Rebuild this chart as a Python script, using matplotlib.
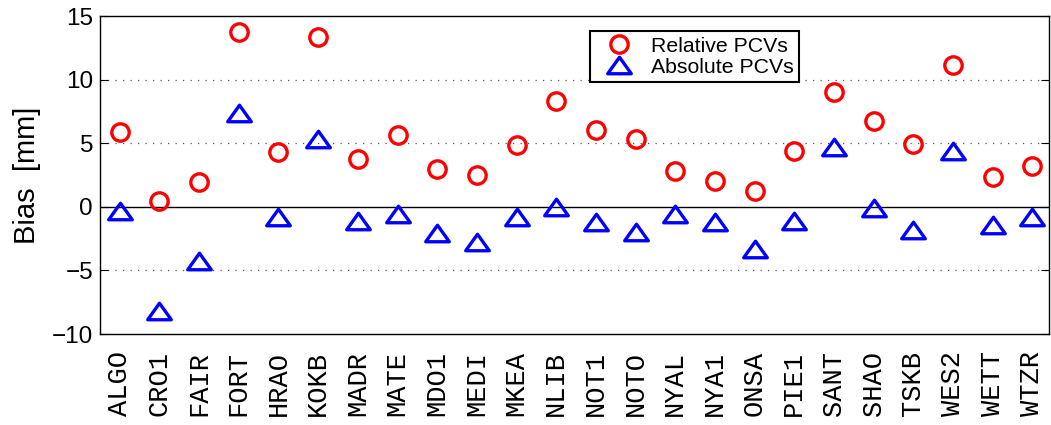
import numpy as np
import matplotlib
matplotlib.use('Agg')
import matplotlib.pyplot as plt
from matplotlib.path import Path

# stations and biases (mm)
stations = ['ALGO', 'CRO1', 'FAIR', 'FORT', 'HRAO', 'KOKB', 'MADR', 'MATE',
            'MDO1', 'MEDI', 'MKEA', 'NLIB', 'NOT1', 'NOTO', 'NYAL', 'NYA1',
            'ONSA', 'PIE1', 'SANT', 'SHAO', 'TSKB', 'WES2', 'WETT', 'WTZR']
relative = [5.87, 0.5, 1.94, 13.78, 4.33, 13.38, 3.78, 5.69,
            2.99, 2.54, 4.9, 8.31, 6.08, 5.35, 2.86, 2.07,
            1.23, 4.38, 9.06, 6.74, 4.96, 11.13, 2.33, 3.2]
absolute = [-0.35, -8.2, -4.28, 7.37, -0.8, 5.35, -1.1, -0.53,
            -2.02, -2.76, -0.82, -0.03, -1.18, -1.94, -0.58, -1.16,
            -3.34, -1.1, 4.72, -0.11, -1.79, 4.43, -1.42, -0.82]
yticks = [-10, -5, 0, 5, 10, 15]

x = np.arange(1, len(stations) + 1)

# wide matlab-style triangle
tri = Path([(-1, -0.7), (1, -0.7), (0, 0.7), (-1, -0.7)],
           [Path.MOVETO, Path.LINETO, Path.LINETO, Path.CLOSEPOLY])

fig = plt.figure(figsize=(10.51, 4.25), dpi=100)
ax = fig.add_axes([0.0951, 0.214, 0.903, 0.748])

for yv in [-5, 5, 10]:
    ax.axhline(yv, color='#555555', linestyle=(0, (1, 5)), linewidth=0.9, zorder=0)
ax.axhline(0, color='black', linewidth=1.0, zorder=1)

ax.plot(x, relative, linestyle='none', marker='o', markersize=12.5,
        markerfacecolor='none', markeredgecolor='red', markeredgewidth=2.4,
        label='Relative PCVs', zorder=3)
ax.plot(x, absolute, linestyle='none', marker=tri, markersize=17,
        markerfacecolor='none', markeredgecolor='blue', markeredgewidth=2.4,
        label='Absolute PCVs', zorder=3)

ax.set_xlim(0.5, 24.42)
ax.set_ylim(-10, 15)
ax.set_yticks(yticks)
ax.set_yticklabels(['\u2212' + str(-t) if t < 0 else str(t) for t in yticks],
                   fontsize=17.5, family='Liberation Sans')
ax.set_xticks(x)
ax.set_xticklabels(stations, rotation=90, fontsize=19.5, family='Liberation Mono')
ax.tick_params(axis='x', length=0, pad=12)
ax.tick_params(axis='y', direction='in', length=6, right=True, width=0.8, pad=5)
ax.set_ylabel('Bias  [mm]', fontsize=21, family='Liberation Sans', labelpad=8)

for s in ax.spines.values():
    s.set_linewidth(1.0)

leg = ax.legend(loc='upper left', bbox_to_anchor=(0.516, 0.952),
                prop={'family': 'Liberation Sans', 'size': 15.3},
                frameon=True, fancybox=False, framealpha=1, edgecolor='black',
                borderpad=0.25, labelspacing=0.1, handletextpad=0.35, handlelength=2.3,
                borderaxespad=0)
leg.get_frame().set_linewidth(1.5)

fig.savefig('out.png', dpi=100)
